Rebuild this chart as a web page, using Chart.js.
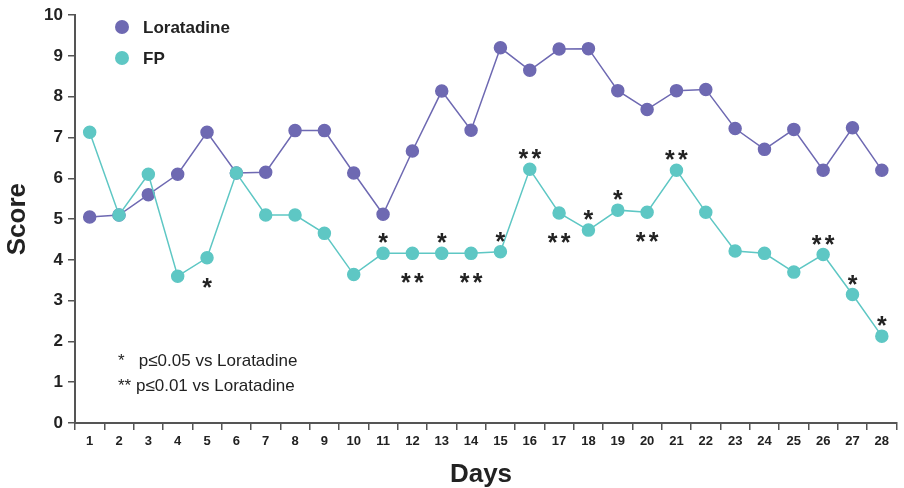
<!DOCTYPE html>
<html>
<head>
<meta charset="utf-8">
<script src="https://cdn.jsdelivr.net/npm/chart.js@4.4.0/dist/chart.umd.min.js"></script>
<style>
html,body{margin:0;padding:0;background:#fff;}
#wrap{width:904px;height:488px;position:relative;}
</style>
</head>
<body>
<div id="wrap"><canvas id="c" width="904" height="488"></canvas></div>
<script>
const days = ['1','2','3','4','5','6','7','8','9','10','11','12','13','14','15','16','17','18','19','20','21','22','23','24','25','26','27','28'];
const loratadine = [5.05,5.1,5.6,6.1,7.13,6.13,6.15,7.17,7.17,6.13,5.12,6.67,8.14,7.18,9.2,8.65,9.17,9.18,8.15,7.69,8.15,8.18,7.22,6.71,7.2,6.2,7.24,6.2];
const fp = [7.13,5.1,6.1,3.6,4.05,6.13,5.1,5.1,4.65,3.64,4.16,4.16,4.16,4.16,4.2,6.22,5.15,4.73,5.22,5.17,6.2,5.17,4.22,4.16,3.7,4.13,3.15,2.13];
// significance marks for FP vs Loratadine, and whether drawn above or below the point
const sigMarks = ['','','','','*','','','','','','*','**','*','**','*','**','**','*','*','**','**','','','','','**','*','*'];
const sigSide  = ['','','','','below','','','','','','above','below','above','below','above','above','below','above','above','below','above','','','','','above','above','above'];
const yTicks = [0,1,2,3,4,5,6,7,8,9,10];
const legendLabels = ['Loratadine','FP'];
const footnotes = ['*   p\u22640.05 vs Loratadine','** p\u22640.01 vs Loratadine'];
const xTitle = 'Days';

const PURPLE = '#6e69b2';
const TEAL = '#5ec7c4';
const FONT = '"Liberation Sans", Arial, Helvetica, sans-serif';

const overlay = {
  id:'overlay',
  afterDatasetsDraw(chart){
    const ctx = chart.ctx;
    const meta = chart.getDatasetMeta(1);
    ctx.save();
    ctx.fillStyle = '#222';
    ctx.font = 'bold 25px ' + FONT;
    ctx.textAlign = 'center';
    ctx.textBaseline = 'alphabetic';
    const mm = ctx.measureText('*');
    const half = (mm.actualBoundingBoxAscent - mm.actualBoundingBoxDescent)/2;
    sigMarks.forEach((m,i)=>{
      if(!m) return;
      const p = meta.data[i];
      const cy = sigSide[i]==='above' ? p.y - 15 : p.y + 25;
      const by = cy + half;
      const n = m.length;
      for(let k=0;k<n;k++){
        const x = p.x + (k - (n-1)/2)*13;
        ctx.fillText('*', x, by);
      }
    });
    // legend
    const colors = [PURPLE, TEAL];
    ctx.textAlign = 'left';
    ctx.textBaseline = 'middle';
    ctx.font = 'bold 17px ' + FONT;
    legendLabels.forEach((l,i)=>{
      const y = 27 + i*31;
      ctx.beginPath();
      ctx.fillStyle = colors[i];
      ctx.arc(122, y, 7, 0, Math.PI*2);
      ctx.fill();
      ctx.fillStyle = '#222';
      ctx.fillText(l, 143, y+1);
    });
    // footnotes
    ctx.font = '17px ' + FONT;
    ctx.fillStyle = '#222';
    footnotes.forEach((t,i)=>{
      ctx.fillText(t, 118, 361 + i*25);
    });
    // x axis title
    ctx.font = 'bold 26px ' + FONT;
    ctx.textAlign = 'center';
    ctx.textBaseline = 'alphabetic';
    ctx.fillText(xTitle, 481, 482);
    ctx.restore();
  }
};

new Chart(document.getElementById('c'), {
  type:'line',
  data:{
    labels: days,
    datasets:[
      {label:'Loratadine', data:loratadine, borderColor:PURPLE, backgroundColor:PURPLE, pointBackgroundColor:PURPLE, pointBorderColor:PURPLE, borderWidth:1.5, pointRadius:6, pointHoverRadius:6, tension:0, order:1},
      {label:'FP', data:fp, borderColor:TEAL, backgroundColor:TEAL, pointBackgroundColor:TEAL, pointBorderColor:TEAL, borderWidth:1.5, pointRadius:6, pointHoverRadius:6, tension:0, order:0}
    ]
  },
  options:{
    responsive:false,
    animation:false,
    events:[],
    layout:{padding:{top:15,right:2,left:0,bottom:0}},
    plugins:{legend:{display:false},tooltip:{enabled:false}},
    scales:{
      x:{
        type:'category',
        offset:true,
        grid:{display:true, drawOnChartArea:false, offset:true, tickLength:7, color:'#555', lineWidth:1.5},
        border:{display:true, color:'#555', width:2},
        ticks:{color:'#222', font:{family:FONT, size:13, weight:'bold'}, padding:4, maxRotation:0, autoSkip:false},
        title:{display:false},
        afterFit(s){ s.height = 65; s.paddingRight = 0; s.paddingLeft = 0; }
      },
      y:{
        min:0, max:10,
        afterBuildTicks(s){ s.ticks = yTicks.map(v=>({value:v})); },
        grid:{display:true, drawOnChartArea:false, tickLength:7, color:'#555', lineWidth:1.5},
        border:{display:true, color:'#555', width:2},
        ticks:{color:'#222', font:{family:FONT, size:17, weight:'bold'}, padding:5},
        title:{display:true, text:'Score', color:'#222', font:{family:FONT, size:26, weight:'bold'}, padding:{top:2,bottom:0}},
        afterFit(s){ s.width = 75; }
      }
    }
  },
  plugins:[overlay]
});
</script>
</body>
</html>
